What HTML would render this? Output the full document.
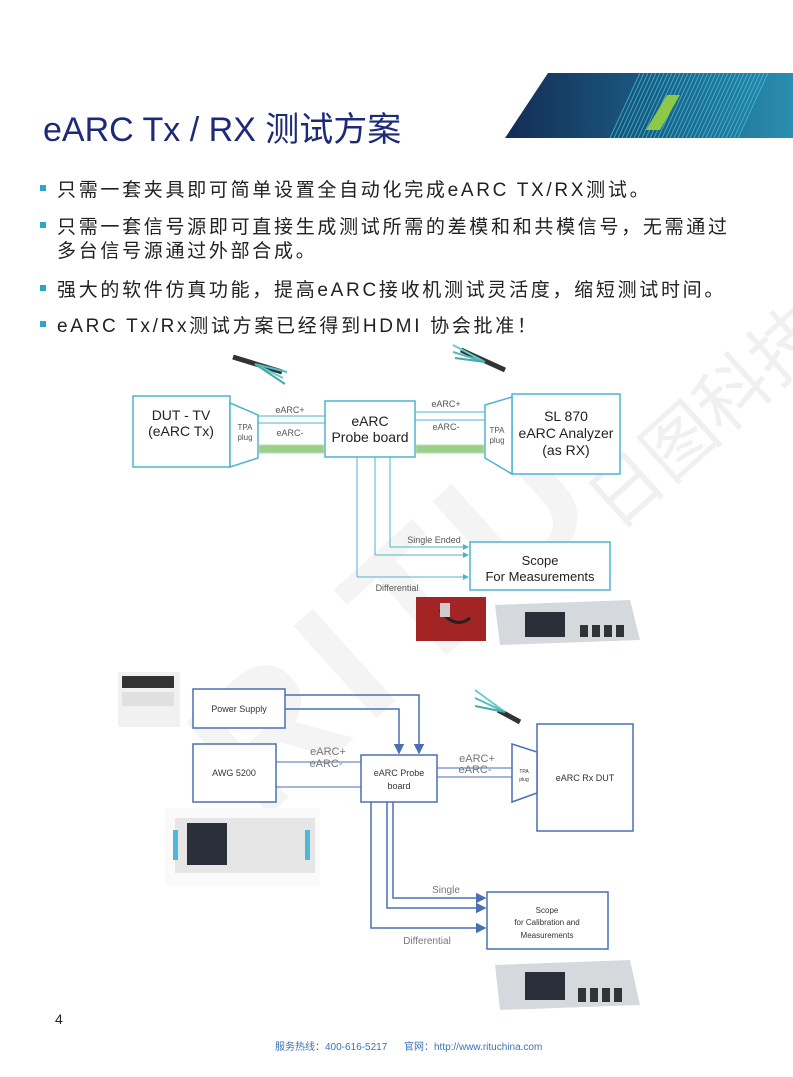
<!DOCTYPE html>
<html><head><meta charset="utf-8">
<style>
body{margin:0;width:793px;height:1077px;position:relative;background:#fff;overflow:hidden;font-family:"Liberation Sans","Noto Sans CJK SC",sans-serif;}
.t{position:absolute;white-space:nowrap;}
.b{position:absolute;font-size:19px;color:#222;letter-spacing:2.7px;left:57px;white-space:nowrap;}
.sq{position:absolute;left:40px;width:6px;height:6px;background:#2aa6c8;}
</style></head><body>
<div class="t" style="left:0;top:0;width:793px;height:1077px;overflow:hidden;">
<div class="t" style="left:150px;top:700px;font-size:180px;font-weight:bold;color:#f4f4f4;transform:rotate(-42deg);transform-origin:left top;letter-spacing:14px;">RITU</div>
<div class="t" style="left:560px;top:470px;font-size:72px;color:#f0f0f0;transform:rotate(-42deg);transform-origin:left top;">日图科技</div>
</div>
<svg class="t" style="left:0;top:0" width="793" height="160">
<defs><linearGradient id="g" x1="0" x2="1"><stop offset="0" stop-color="#142d55"/><stop offset="0.5" stop-color="#1b5a80"/><stop offset="1" stop-color="#2a8fb0"/></linearGradient></defs>
<polygon points="548,73 793,73 793,138 505,138" fill="url(#g)"/>
<g stroke="#3fc6e0" stroke-width="1" opacity="0.75">
<line x1="640" y1="73" x2="610" y2="138"/><line x1="644" y1="73" x2="614" y2="138"/><line x1="648" y1="73" x2="618" y2="138"/><line x1="652" y1="73" x2="622" y2="138"/><line x1="656" y1="73" x2="626" y2="138"/><line x1="660" y1="73" x2="630" y2="138"/><line x1="664" y1="73" x2="634" y2="138"/><line x1="668" y1="73" x2="638" y2="138"/><line x1="672" y1="73" x2="642" y2="138"/><line x1="676" y1="73" x2="646" y2="138"/><line x1="680" y1="73" x2="650" y2="138"/><line x1="684" y1="73" x2="654" y2="138"/><line x1="688" y1="73" x2="658" y2="138"/><line x1="692" y1="73" x2="662" y2="138"/><line x1="696" y1="73" x2="666" y2="138"/><line x1="700" y1="73" x2="670" y2="138"/><line x1="704" y1="73" x2="674" y2="138"/><line x1="708" y1="73" x2="678" y2="138"/><line x1="712" y1="73" x2="682" y2="138"/><line x1="716" y1="73" x2="686" y2="138"/><line x1="720" y1="73" x2="690" y2="138"/><line x1="724" y1="73" x2="694" y2="138"/><line x1="728" y1="73" x2="698" y2="138"/><line x1="732" y1="73" x2="702" y2="138"/><line x1="736" y1="73" x2="706" y2="138"/><line x1="740" y1="73" x2="710" y2="138"/><line x1="744" y1="73" x2="714" y2="138"/><line x1="748" y1="73" x2="718" y2="138"/><line x1="752" y1="73" x2="722" y2="138"/><line x1="756" y1="73" x2="726" y2="138"/><line x1="760" y1="73" x2="730" y2="138"/><line x1="764" y1="73" x2="734" y2="138"/><line x1="768" y1="73" x2="738" y2="138"/>
</g>
<polygon points="667,95 680,95 660,130 646,130" fill="#8cc84a"/>
</svg>
<div class="t" style="left:43px;top:102px;font-size:34px;color:#1d2a78;">eARC Tx / RX 测试方案</div>

<div class="sq" style="top:185px"></div><div class="b" style="top:175px">只需一套夹具即可简单设置全自动化完成eARC TX/RX测试。</div>
<div class="sq" style="top:222px"></div><div class="b" style="top:212px">只需一套信号源即可直接生成测试所需的差模和和共模信号，无需通过</div>
<div class="b" style="top:236px">多台信号源通过外部合成。</div>
<div class="sq" style="top:285px"></div><div class="b" style="top:275px">强大的软件仿真功能，提高eARC接收机测试灵活度，缩短测试时间。</div>
<div class="sq" style="top:321px"></div><div class="b" style="top:311px">eARC Tx/Rx测试方案已经得到HDMI 协会批准！</div>

<svg class="t" style="left:0;top:0" width="793" height="1077" font-family="Liberation Sans, sans-serif">
<defs>
<marker id="a1" markerWidth="6" markerHeight="6" refX="5" refY="3" orient="auto"><path d="M0,0L6,3L0,6z" fill="#4fb3cf"/></marker>
<marker id="a2" markerWidth="7" markerHeight="7" refX="6" refY="3.5" orient="auto"><path d="M0,0L7,3.5L0,7z" fill="#4a6fb5"/></marker>
</defs>
<g stroke-width="2">
<line x1="233" y1="357" x2="282" y2="372" stroke="#333" stroke-width="5"/>
<line x1="255" y1="364" x2="283" y2="378" stroke="#6cc" /><line x1="255" y1="364" x2="287" y2="372" stroke="#5bb"/><line x1="255" y1="364" x2="285" y2="384" stroke="#4aa"/>
<line x1="461" y1="350" x2="505" y2="370" stroke="#333" stroke-width="5"/>
<line x1="453" y1="345" x2="485" y2="362" stroke="#6cc"/><line x1="453" y1="352" x2="485" y2="362" stroke="#5bb"/><line x1="455" y1="358" x2="485" y2="362" stroke="#4aa"/>
</g>
<g fill="none" stroke="#4fb3cf" stroke-width="1.5">
<rect x="133" y="396" width="97" height="71" fill="#fff"/>
<polygon points="230,403 258,415 258,458 230,467" fill="#fff"/>
<rect x="325" y="401" width="90" height="56" fill="#fff"/>
<rect x="512" y="394" width="108" height="80" fill="#fff"/>
<polygon points="485,405 512,397 512,474 485,458" fill="#fff"/>
<line x1="258" y1="416" x2="325" y2="416" stroke-width="1"/><line x1="258" y1="423" x2="325" y2="423" stroke-width="1"/>
<line x1="415" y1="412" x2="485" y2="412" stroke-width="1"/><line x1="415" y1="420" x2="485" y2="420" stroke-width="1"/>
<line x1="390" y1="457" x2="390" y2="547" stroke-width="1"/><line x1="390" y1="547" x2="468" y2="547" stroke-width="1" marker-end="url(#a1)"/>
<line x1="375" y1="457" x2="375" y2="555" stroke-width="1"/><line x1="375" y1="555" x2="468" y2="555" stroke-width="1" marker-end="url(#a1)"/>
<line x1="357" y1="457" x2="357" y2="577" stroke-width="1"/><line x1="357" y1="577" x2="468" y2="577" stroke-width="1" marker-end="url(#a1)"/>
<rect x="470" y="542" width="140" height="48" fill="#fff"/>
</g>
<rect x="259" y="445" width="65" height="8" fill="#9ccf8a" stroke="#b8deb0"/>
<rect x="416" y="445" width="68" height="8" fill="#9ccf8a" stroke="#b8deb0"/>
<g font-size="14" fill="#222" text-anchor="middle">
<text x="181" y="420">DUT - TV</text><text x="181" y="436">(eARC Tx)</text>
<text x="370" y="426">eARC</text><text x="370" y="442">Probe board</text>
<text x="566" y="421">SL 870</text><text x="566" y="438">eARC Analyzer</text><text x="566" y="455">(as RX)</text>
<text x="540" y="565" font-size="13">Scope</text><text x="540" y="581" font-size="13">For Measurements</text>
</g>
<g font-size="9" fill="#555" text-anchor="middle">
<text x="290" y="413">eARC+</text><text x="290" y="436">eARC-</text>
<text x="446" y="407">eARC+</text><text x="446" y="430">eARC-</text>
<text x="245" y="430" font-size="8">TPA</text><text x="245" y="440" font-size="8">plug</text>
<text x="497" y="433" font-size="8">TPA</text><text x="497" y="443" font-size="8">plug</text>
<text x="434" y="543">Single Ended</text><text x="397" y="591">Differential</text>
</g>
<rect x="416" y="597" width="70" height="44" fill="#a32424"/>
<path d="M440,610 q15,20 30,8" stroke="#222" stroke-width="3" fill="none"/>
<rect x="440" y="603" width="10" height="14" fill="#ccc"/>
<polygon points="495,605 630,600 640,640 500,645" fill="#d5d8dc"/>
<rect x="525" y="612" width="40" height="25" fill="#2a2f3a"/>
<g fill="#333"><rect x="580" y="625" width="8" height="12"/><rect x="592" y="625" width="8" height="12"/><rect x="604" y="625" width="8" height="12"/><rect x="616" y="625" width="8" height="12"/></g>

<rect x="118" y="672" width="62" height="55" fill="#f1f1f1"/>
<rect x="122" y="676" width="52" height="12" fill="#333"/>
<rect x="122" y="692" width="52" height="14" fill="#e0e0e0"/>
<rect x="165" y="808" width="155" height="78" fill="#fafafa"/>
<rect x="175" y="818" width="140" height="55" fill="#e6e6e6"/>
<rect x="187" y="823" width="40" height="42" fill="#2a2f3a"/>
<rect x="173" y="830" width="5" height="30" fill="#4fb7d8"/><rect x="305" y="830" width="5" height="30" fill="#4fb7d8"/>
<g stroke-width="2"><line x1="498" y1="710" x2="520" y2="722" stroke="#333" stroke-width="5"/><line x1="475" y1="690" x2="505" y2="712" stroke="#6cc"/><line x1="475" y1="698" x2="505" y2="712" stroke="#5bb"/><line x1="475" y1="706" x2="505" y2="712" stroke="#4aa"/></g>
<g fill="none" stroke="#4a6fb5" stroke-width="1.5">
<rect x="193" y="689" width="92" height="39" fill="#fff"/>
<rect x="193" y="744" width="83" height="58" fill="#fff"/>
<rect x="361" y="755" width="76" height="47" fill="#fff"/>
<rect x="537" y="724" width="96" height="107" fill="#fff"/>
<polygon points="512,744 537,752 537,793 512,802" fill="#fff"/>
<polyline points="285,695 419,695 419,753" marker-end="url(#a2)"/>
<polyline points="285,709 399,709 399,753" marker-end="url(#a2)"/>
<line x1="276" y1="762" x2="361" y2="762" stroke-width="1"/><line x1="276" y1="787" x2="361" y2="787" stroke-width="1"/>
<line x1="437" y1="768" x2="512" y2="768" stroke-width="1"/><line x1="437" y1="777" x2="512" y2="777" stroke-width="1"/>
<polyline points="393,802 393,898 485,898" marker-end="url(#a2)"/>
<polyline points="387,802 387,908 485,908" marker-end="url(#a2)"/>
<polyline points="371,802 371,928 485,928" marker-end="url(#a2)"/>
<rect x="487" y="892" width="121" height="57" fill="#fff"/>
</g>
<g font-size="9" fill="#333" text-anchor="middle">
<text x="239" y="712">Power Supply</text>
<text x="234" y="776">AWG 5200</text>
<text x="399" y="776">eARC Probe</text><text x="399" y="789">board</text>
<text x="585" y="781">eARC Rx DUT</text>
<text x="547" y="913" font-size="8">Scope</text><text x="547" y="925" font-size="8">for Calibration and</text><text x="547" y="938" font-size="8">Measurements</text>
<text x="524" y="773" font-size="5">TPA</text><text x="524" y="781" font-size="5">plug</text>
</g>
<g font-size="11" fill="#777" text-anchor="middle">
<text x="328" y="755">eARC+</text><text x="326" y="767">eARC-</text>
<text x="477" y="762">eARC+</text><text x="475" y="773">eARC-</text>
<text x="446" y="893" font-size="10">Single</text><text x="427" y="944" font-size="10">Differential</text>
</g>
<polygon points="495,965 630,960 640,1005 500,1010" fill="#d5d8dc"/>
<rect x="525" y="972" width="40" height="28" fill="#2a2f3a"/>
<g fill="#333"><rect x="578" y="988" width="8" height="14"/><rect x="590" y="988" width="8" height="14"/><rect x="602" y="988" width="8" height="14"/><rect x="614" y="988" width="8" height="14"/></g>
</svg>

<div class="t" style="left:55px;top:1011px;font-size:14px;color:#222;">4</div>
<div class="t" style="left:275px;top:1038px;font-size:10px;color:#3a72b8;">服务热线：400-616-5217&nbsp;&nbsp;&nbsp;&nbsp;&nbsp;&nbsp;官网：http://www.rituchina.com</div>
</body></html>
